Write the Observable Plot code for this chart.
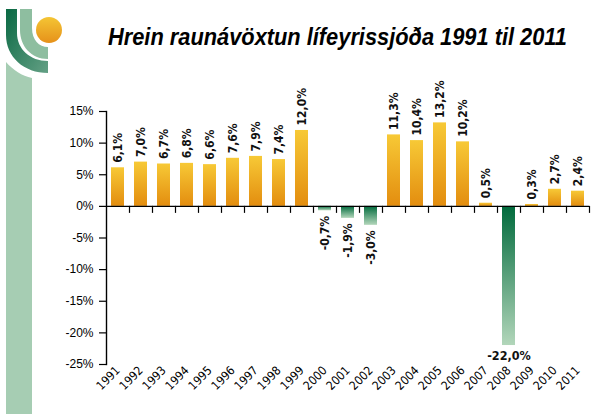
<!DOCTYPE html>
<html><head><meta charset="utf-8">
<script src="https://cdn.jsdelivr.net/npm/d3@7"></script>
<script src="https://cdn.jsdelivr.net/npm/@observablehq/plot@0.6"></script>
<style>
body{margin:0;background:#fff;}
#wrap{position:relative;width:612px;height:414px;overflow:hidden;background:#fff;}
#wrap svg{position:absolute;left:0;top:0;}
#deco{z-index:2;pointer-events:none;}
</style></head><body>
<div id="wrap">
<svg id="deco" width="612" height="414" xmlns="http://www.w3.org/2000/svg">
  <defs>
    <linearGradient id="gPos" x1="0" y1="0" x2="0" y2="1">
      <stop offset="0" stop-color="#f7c936"/>
      <stop offset="1" stop-color="#e38d0f"/>
    </linearGradient>
    <linearGradient id="gNeg" x1="0" y1="0" x2="0" y2="1">
      <stop offset="0" stop-color="#006a3c"/>
      <stop offset="1" stop-color="#b2d6ba"/>
    </linearGradient>
    <linearGradient id="gArc" x1="0" y1="0" x2="1" y2="1">
      <stop offset="0" stop-color="#0a6943"/>
      <stop offset="1" stop-color="#64a085"/>
    </linearGradient>
    <linearGradient id="gSun" x1="0" y1="0" x2="0" y2="1">
      <stop offset="0" stop-color="#f4c534"/>
      <stop offset="1" stop-color="#e6911a"/>
    </linearGradient>
  </defs>
  <path d="M6,62 C13,70 22,76 32,78 L32,414 L6,414 Z" fill="#a6cdb3"/>
  <path d="M6,9 L17,9 L17,33 C17,49 30,61 48,61 L48,73 C24,73 6,57 6,35 Z" fill="url(#gArc)"/>
  <path d="M20,9 L32,9 L32,28 C32,40 39,47 48,47 L48,59 C31,59 20,46 20,30 Z" fill="#8ebea0"/>
  <circle cx="49" cy="30" r="13" fill="url(#gSun)"/>
  <text id="title" x="108" y="45" font-family="Liberation Sans" font-weight="bold" font-style="italic" font-size="23" textLength="459" lengthAdjust="spacingAndGlyphs" fill="#000"></text>
</svg>
</div>
<script>
const title = "Hrein raunávöxtun lífeyrissjóða 1991 til 2011";
const years = ["1991","1992","1993","1994","1995","1996","1997","1998","1999","2000","2001","2002","2003","2004","2005","2006","2007","2008","2009","2010","2011"];
const returns = [6.1, 7.0, 6.7, 6.8, 6.6, 7.6, 7.9, 7.4, 12.0, -0.7, -1.9, -3.0, 11.3, 10.4, 13.2, 10.2, 0.5, -22.0, 0.3, 2.7, 2.4];
const yTicks = [-25, -20, -15, -10, -5, 0, 5, 10, 15];

document.getElementById("title").textContent = title;

const data = years.map((year, i) => ({year, value: returns[i]}));
const fmt = v => v.toFixed(1).replace(".", ",") + "%";

const W = 612, H = 414, mL = 106, mR = 23, mT = 111, mB = 50;
const halfStep = (W - mL - mR) / years.length / 2;
const narrow = "'Liberation Sans Narrow', 'DejaVu Sans Condensed', sans-serif";

const chart = Plot.plot({
  width: W, height: H,
  marginLeft: mL, marginRight: mR, marginTop: mT, marginBottom: mB,
  style: {background: "transparent", color: "#000", fontFamily: "'Liberation Sans', sans-serif", fontSize: "12px", overflow: "visible"},
  x: {type: "band", domain: years, paddingInner: 0.43, paddingOuter: 0.215, label: null},
  y: {domain: [-25, 15], label: null},
  marks: [
    Plot.barY(data, {filter: d => d.value >= 0, x: "year", y: "value", fill: "url(#gPos)"}),
    Plot.barY(data, {filter: d => d.value < 0, x: "year", y: "value", fill: "url(#gNeg)"}),
    Plot.frame({anchor: "left", stroke: "#000", strokeWidth: 1.4}),
    Plot.ruleY([0], {stroke: "#000", strokeWidth: 1.4}),
    Plot.ruleX(data, {x: "year", y1: d => 0, y2: d => 0, insetBottom: -7, dx: halfStep, stroke: "#000", strokeWidth: 1.2}),
    Plot.axisY({ticks: yTicks, tickSize: 7, tickPadding: 6, tickFormat: d => d + "%", fontSize: 12, strokeWidth: 1.2}),
    Plot.axisX({tickSize: 0, tickRotate: -45, tickPadding: 4, fontSize: 12, fontFamily: narrow}),
    Plot.text(data, {filter: d => d.value >= 0, x: "year", y: "value", text: d => fmt(d.value), rotate: -90, textAnchor: "start", dy: -5, fontSize: 12, fontWeight: "bold", fontFamily: narrow, fill: "#111"}),
    Plot.text(data, {filter: d => d.value < 0 && d.value > -10, x: "year", y: "value", text: d => fmt(d.value), rotate: -90, textAnchor: "end", dy: 5, fontSize: 12, fontWeight: "bold", fontFamily: narrow, fill: "#111"}),
    Plot.text(data, {filter: d => d.value <= -10, x: "year", y: "value", text: d => fmt(d.value), lineAnchor: "top", dy: 6, fontSize: 12.5, fontWeight: "bold", fontFamily: narrow, fill: "#111"})
  ]
});
document.getElementById("wrap").appendChild(chart);
</script>
</body></html>
